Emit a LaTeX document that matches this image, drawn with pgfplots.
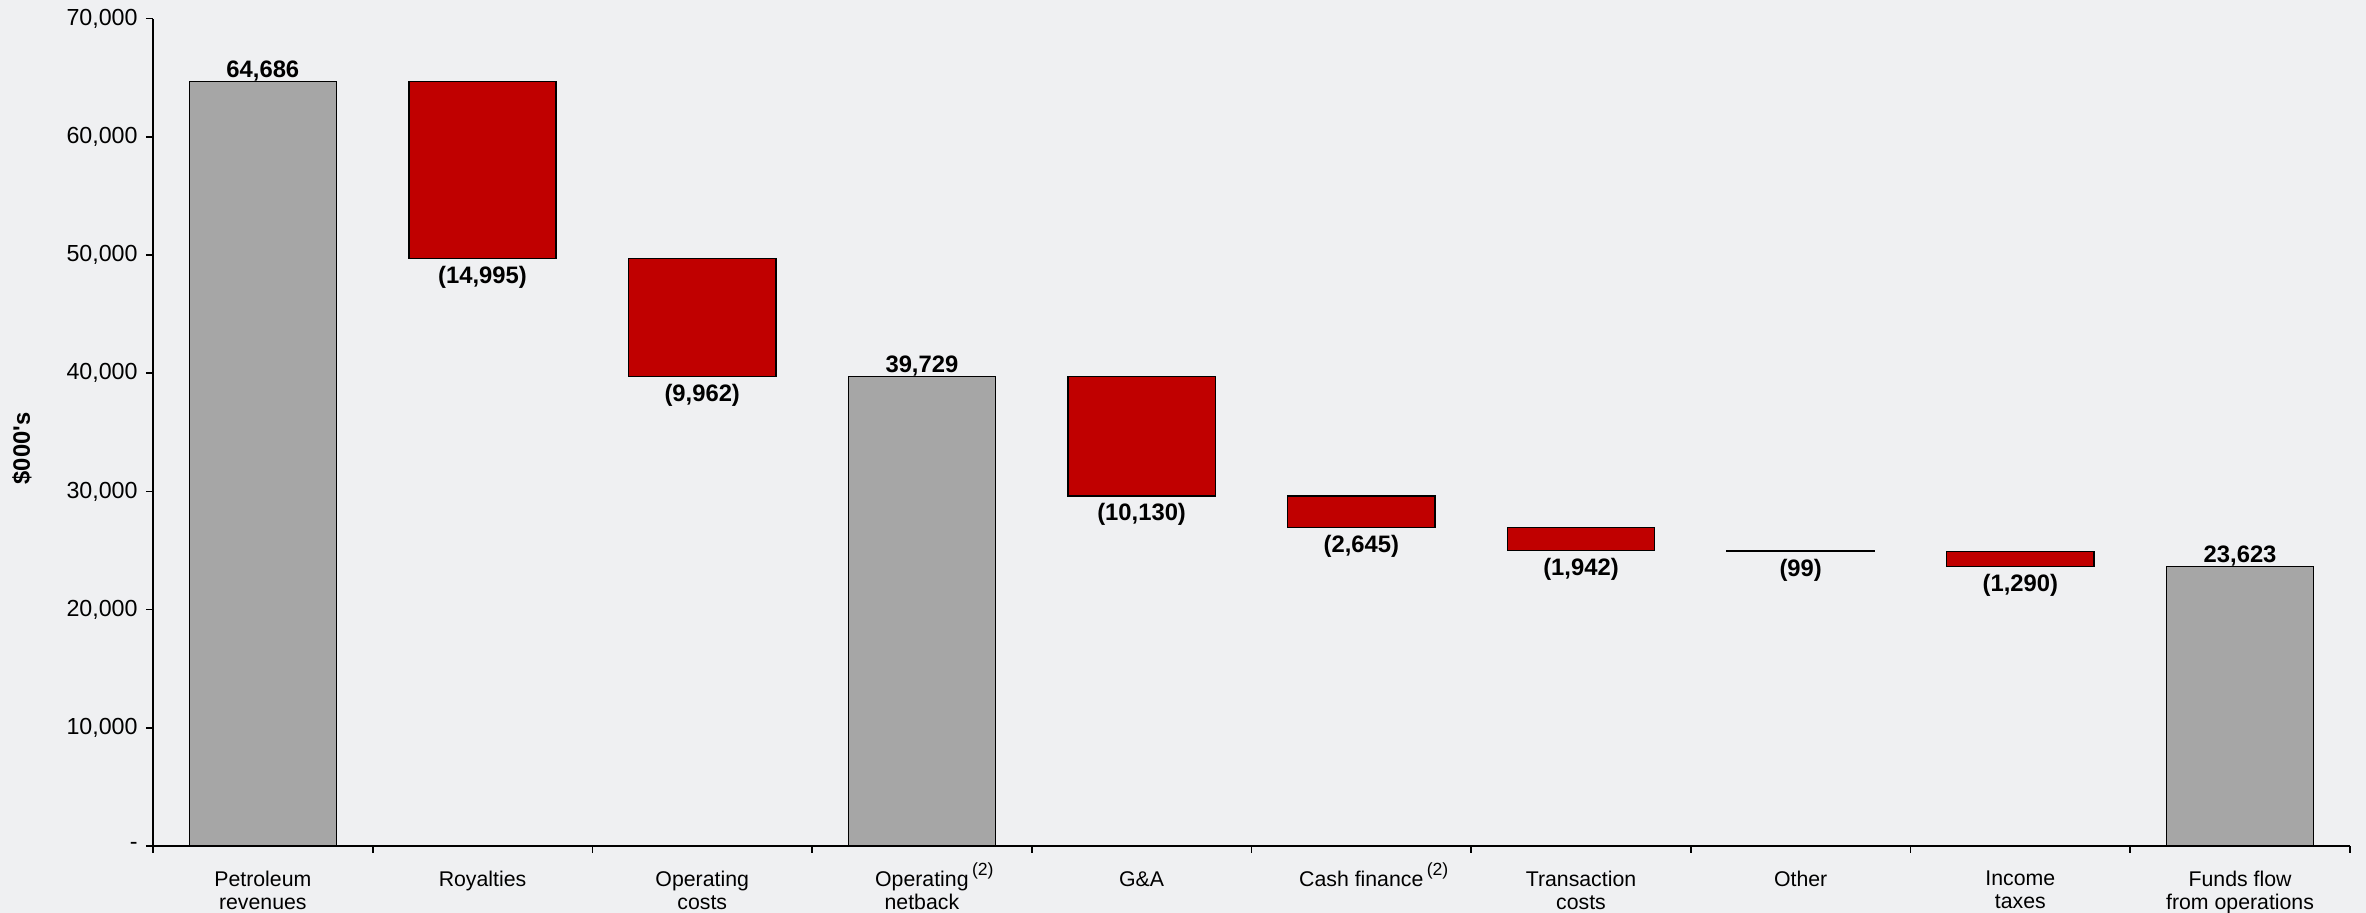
\documentclass[border=0pt]{standalone}
\usepackage{pgfplots}
\pgfplotsset{compat=1.18}
\usepackage{fontspec}
\setmainfont{Liberation Sans}
\definecolor{bg}{HTML}{EFF0F2}
\definecolor{barred}{HTML}{C00000}
\definecolor{bargrey}{HTML}{A6A6A6}
\newcommand{\notetwo}{\rlap{\hspace{1.2pt}\smash{\raisebox{4pt}{\fontsize{6.3}{7}\selectfont(2)}}}}
\begin{document}
\begin{tikzpicture}
\fill[bg] (-54.64pt,-23.93pt) rectangle (790.36pt,302.14pt);
\pgfplotsset{wf/.style={scale only axis, width=784.6pt, height=295.5pt,
  xmin=-0.5, xmax=9.5, ymin=0, ymax=70000, at={(0,0)}, anchor=south west}}
\begin{axis}[wf, ybar stacked, bar width=0.67,
  axis lines=left, axis line style={-, line width=0.6pt, black},
  tick align=outside, major tick length=2.5pt, minor tick length=2.5pt,
  every tick/.style={black, line width=0.6pt},
  every major x tick/.append style={draw=none},
  xtick={0,...,9}, minor xtick={-0.5,0.5,...,9.5},
  xticklabels={{Petroleum\\revenues}, Royalties, {Operating\\costs}, {Operating\notetwo\\netback}, G\&A, {Cash finance\notetwo}, {Transaction\\costs}, Other, {Income\\taxes}, {Funds flow\\from operations}},
  xticklabel style={align=center, font=\fontsize{7.6}{8.1}\selectfont, anchor=north, yshift=-3pt},
  ytick={0,10000,...,70000},
  yticklabels={-,{10,000},{20,000},{30,000},{40,000},{50,000},{60,000},{70,000}},
  yticklabel style={font=\fontsize{8.3}{10}\selectfont, inner sep=0pt, xshift=-2.8pt},
]
\addplot[draw=none, fill=none] coordinates {(0,0) (1,49691) (2,39729) (3,0) (4,29599) (5,26954) (6,25012) (7,24913) (8,23623) (9,0)};
\addplot[fill=bargrey, draw=black, line width=0.5pt] coordinates {(0,64686) (1,0) (2,0) (3,39729) (4,0) (5,0) (6,0) (7,0) (8,0) (9,23623)};
\addplot[fill=barred, draw=black, line width=0.5pt] coordinates {(0,0) (1,14995) (2,9962) (3,0) (4,10130) (5,2645) (6,1942) (7,99) (8,1290) (9,0)};
\end{axis}
\begin{axis}[wf, axis lines=none, clip=false]
\addplot[draw=none, mark=none, nodes near coords, point meta=explicit symbolic,
  nodes near coords style={anchor=base, yshift=1.4pt, inner sep=0pt, text=black, font=\bfseries\fontsize{8.5}{10}\selectfont}]
  coordinates {(0,64686) [{64,686}] (3,39729) [{39,729}] (9,23623) [{23,623}]};
\addplot[draw=none, mark=none, nodes near coords, point meta=explicit symbolic,
  nodes near coords style={anchor=north, yshift=-2.5pt, inner sep=0pt, text=black, font=\bfseries\fontsize{8.5}{10}\selectfont}]
  coordinates {(1,49691) [{(14,995)}] (2,39729) [{(9,962)}] (4,29599) [{(10,130)}] (5,26954) [{(2,645)}] (6,25012) [{(1,942)}] (7,24913) [{(99)}] (8,23623) [{(1,290)}]};
\end{axis}
\node[rotate=90, font=\bfseries\fontsize{8.5}{10}\selectfont] at (-46.8pt,142pt) {\$000\textquotesingle s};
\pgfresetboundingbox
\path[use as bounding box] (-54.64pt,-23.93pt) rectangle (790.36pt,302.14pt);
\end{tikzpicture}
\end{document}
